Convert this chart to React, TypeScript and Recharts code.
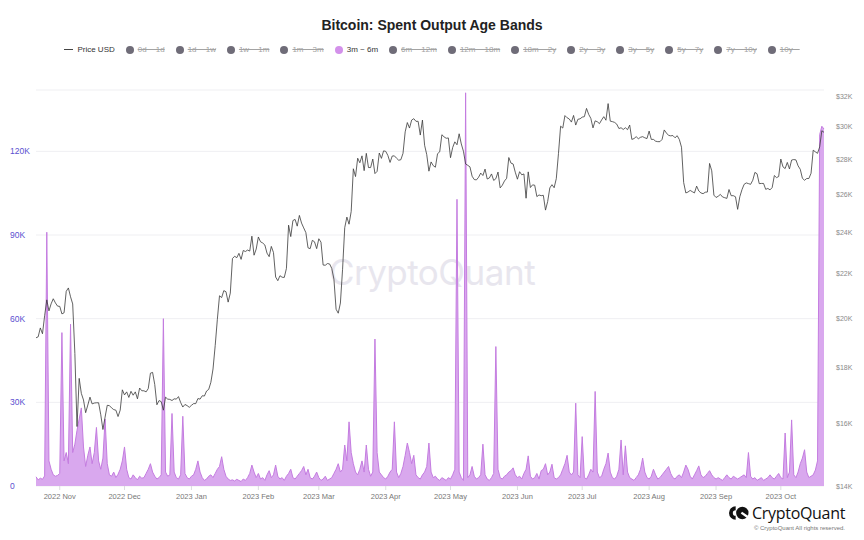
import { ComposedChart, Area, Line, XAxis, YAxis, CartesianGrid } from "recharts";

// daily series, first point 2022-10-21, last point 2023-10-21
const START = Date.UTC(2022, 9, 21);
const DAY = 86400000;

const priceUsd = [
  19165, 19204, 19570, 19330, 20080, 20770, 20290, 20595, 20818, 20635, 20495,
  // Nov
  20485, 20160, 20209, 21148, 21300, 20905, 20590, 18541, 15880, 17586,
  17034, 16800, 16353, 16620, 16900, 16660, 16690, 16700, 16700, 16280,
  15780, 16200, 16610, 16600, 16520, 16460, 16440, 16220, 16440, 17165,
  // Dec
  16980, 17090, 16890, 17110, 16970, 17090, 16840, 17230, 17130, 17130,
  17090, 17210, 17780, 17810, 17360, 16630, 16780, 16740, 16440, 16900,
  16830, 16820, 16780, 16840, 16830, 16920, 16710, 16550, 16640, 16600, 16540,
  // Jan
  16610, 16670, 16670, 16850, 16830, 16950, 16940, 17120, 17180, 17440,
  17940, 18850, 19930, 20950, 20870, 21180, 21130, 20670, 21070, 22670,
  22780, 22710, 22920, 22630, 23060, 23010, 23080, 23030, 23770, 22830, 23130,
  // Feb
  23730, 23490, 23430, 23330, 22930, 22760, 23260, 22960, 21800, 21630,
  21860, 21790, 21780, 22200, 24330, 23750, 24570, 24630, 24280, 24840,
  24440, 24190, 23950, 23190, 23150, 23560, 23490, 23150,
  // Mar
  23640, 23470, 22360, 22350, 22430, 22410, 22200, 21700, 20360, 20190,
  20630, 22160, 24200, 24750, 24380, 25050, 27420, 26970, 28040, 27770,
  28180, 27310, 28330, 27490, 27490, 27990, 27140, 27270, 28350, 28030, 28480,
  // Apr
  28450, 28200, 27790, 28170, 28180, 28040, 27920, 27950, 28330, 29650,
  30240, 29890, 30400, 30490, 30320, 30320, 29450, 30400, 28820, 28250,
  27280, 27820, 27600, 27510, 28310, 28420, 29470, 29340, 29250, 29270,
  // May
  28070, 28680, 29030, 28850, 29530, 28900, 28450, 27700, 27620, 27530,
  26990, 26800, 26780, 26930, 27170, 27030, 27400, 26830, 26890, 27120,
  26750, 26850, 27230, 26330, 26480, 26720, 26870, 28080, 27750, 27700, 27220,
  // Jun
  26820, 27250, 27070, 27120, 25760, 27240, 26350, 26500, 26480, 25850,
  25940, 25900, 25920, 25120, 25580, 26330, 26510, 26340, 26850, 28310,
  30010, 29890, 30690, 30550, 30470, 30270, 30700, 30080, 30450, 30480,
  // Jul
  30590, 30620, 31160, 30770, 30510, 29900, 30350, 30290, 30170, 30410,
  30620, 30390, 31480, 30330, 30300, 30250, 30140, 29860, 29910, 29800,
  29910, 29790, 30080, 29180, 29230, 29350, 29220, 29310, 29350, 29280, 29230,
  // Aug
  29700, 29180, 29180, 29070, 29040, 29040, 29180, 29770, 29580, 29430,
  29400, 29420, 29280, 29410, 29170, 28700, 26630, 26050, 26100, 26190,
  26120, 26050, 26430, 26160, 26050, 26010, 26090, 26100, 27730, 27300, 25930,
  // Sep
  25800, 25870, 25970, 25830, 25790, 25750, 26240, 25900, 25900, 25840,
  25160, 25840, 26230, 26530, 26610, 26570, 26530, 26760, 27210, 27130,
  26570, 26580, 26580, 26250, 26300, 26220, 26350, 27030, 26910, 26970,
  // Oct
  27990, 27530, 27430, 27790, 27410, 27930, 27960, 27940, 27590, 27390,
  26870, 26760, 26860, 26860, 27160, 28520, 28420, 28330, 28720, 29720, 29620,
];

const spent3m6m = [
  3300, 2200, 2800, 2400, 3600, 91000, 9000, 6000, 4000, 3500,
  3800, 4500, 55000, 9000, 12000, 8000, 58000, 12000, 15000, 20000,
  24000, 28000, 14000, 7000, 11000, 14000, 8000, 12000, 21000, 9000,
  6000, 10000, 24000, 8000, 4000, 3500, 5000, 3000, 4200, 6000,
  9000, 14000, 6000, 3000, 2500, 4000, 3000, 2200, 3500, 2800,
  3000, 4500, 6000, 8000, 5000, 3500, 2500, 3000, 4000, 60000,
  5000, 3500, 4000, 26000, 5000, 3000, 2500, 4000, 25000, 4500,
  3000, 2500, 3500, 4000, 6000, 9000, 5000, 3000, 2000, 2500,
  3500, 4000, 3000, 4500, 6000, 7000, 10500, 6000, 3500, 2500,
  2000, 2200, 1800, 2400, 2000, 1600, 2500, 2000, 3000, 4500,
  7500, 5000, 3000, 4500, 2500, 3000, 2000, 4000, 5500, 3000,
  4000, 7500, 3500, 2500, 3000, 2000, 3500, 4500, 6000, 3000,
  2500, 3500, 4500, 5500, 7000, 4000, 6000, 3000, 2500, 3500,
  5000, 3000, 2000, 2500, 3500, 2000, 2500, 3000, 4500, 6000,
  8000, 5000, 6000, 14700, 9000, 23000, 12000, 8000, 5000, 4000,
  6000, 9000, 5000, 14700, 6000, 3500, 5000, 52700, 12000, 5000,
  4000, 3000, 2500, 3500, 5000, 6000, 23000, 5000, 3000, 4500,
  7000, 11000, 15400, 12000, 8000, 11000, 4000, 3000, 2500, 4000,
  5000, 7000, 15400, 5000, 3000, 3500, 2500, 2000, 3000, 2500,
  2000, 3000, 2500, 4000, 6000, 102800, 5000, 3000, 2000, 141000,
  3000, 4000, 7000, 3500, 2500, 3000, 4000, 15000, 4000, 2500,
  2000, 3000, 4500, 50000, 6000, 3000, 2500, 3500, 4000, 5000,
  5500, 6500, 4000, 3000, 3500, 2500, 4500, 6000, 10800, 3500,
  2500, 3000, 4500, 2500, 5500, 6000, 8000, 4000, 5000, 7800,
  3000, 2500, 3000, 4000, 6000, 8000, 11000, 5000, 4000, 5000,
  29700, 4000, 3000, 17700, 3000, 2500, 4000, 6000, 5000, 33900,
  5000, 3000, 3500, 6000, 8000, 11800, 5000, 3000, 2500, 3500,
  6000, 16500, 4000, 14400, 5000, 3000, 2500, 2000, 3000, 4000,
  6000, 10000, 5000, 3000, 2500, 3500, 6000, 4000, 2500, 3000,
  4000, 5000, 6000, 7000, 4500, 3000, 2500, 3500, 4000, 3000,
  5000, 7500, 6000, 3500, 2500, 4000, 5500, 7200, 4000, 3000,
  3500, 4500, 5500, 4000, 3000, 2500, 3000, 2500, 2000, 3000,
  4000, 3000, 2500, 3500, 3000, 2500, 3000, 3500, 4000, 3000,
  12000, 3500, 2500, 3000, 2000, 2500, 3000, 2000, 2500, 3000,
  4000, 3000, 2500, 3500, 4500, 3000, 2500, 19000, 3000, 5000,
  23700, 4000, 3000, 5000, 8000, 10000, 13000, 5000, 3000, 3500,
  4000, 5700, 9000, 126000, 129000, 128000,
];

const monthTicks = [
  "2022-11-01", "2022-12-01", "2023-01-01", "2023-02-01", "2023-03-01", "2023-04-01",
  "2023-05-01", "2023-06-01", "2023-07-01", "2023-08-01", "2023-09-01", "2023-10-01",
];
const monthNames = ["Jan", "Feb", "Mar", "Apr", "May", "Jun", "Jul", "Aug", "Sep", "Oct", "Nov", "Dec"];

const leftTicks = [0, 30000, 60000, 90000, 120000];
const rightTicks = [14000, 16000, 18000, 20000, 22000, 24000, 26000, 28000, 30000, 32000];

const bandNames = [
  "0d ~ 1d", "1d ~ 1w", "1w ~ 1m", "1m ~ 3m", "3m ~ 6m", "6m ~ 12m", "12m ~ 18m",
  "18m ~ 2y", "2y ~ 3y", "3y ~ 5y", "5y ~ 7y", "7y ~ 10y", "10y ~",
];
const activeBand = "3m ~ 6m";

const data = priceUsd.map((p, i) => ({
  ts: START + i * DAY,
  price: p,
  spent: spent3m6m[i] ?? 0,
}));

const tickTimes = monthTicks.map((s) => Date.parse(s + "T00:00:00Z"));

const FONT = "'Liberation Sans', Arial, Helvetica, sans-serif";

function fmtMonth(t: number) {
  const d = new Date(t);
  return `${d.getUTCFullYear()} ${monthNames[d.getUTCMonth()]}`;
}

function LeftTick(props: any) {
  const { y, payload } = props;
  const v = payload.value as number;
  return (
    <text x={10} y={y} dy={3} fill="#5b50d0" fontSize={8.5} fontFamily={FONT}>
      {v === 0 ? "0" : `${v / 1000}K`}
    </text>
  );
}

function RightTick(props: any) {
  const { y, payload } = props;
  return (
    <text x={836} y={y} dy={3} fill="#8a8a8a" fontSize={7} fontFamily={FONT}>
      {`$${payload.value / 1000}K`}
    </text>
  );
}

function BottomTick(props: any) {
  const { x, y, payload } = props;
  return (
    <text x={x} y={y} dy={7} textAnchor="middle" fill="#777" fontSize={7.5} fontFamily={FONT}>
      {fmtMonth(payload.value)}
    </text>
  );
}

function LegendRow() {
  return (
    <div
      style={{
        position: "absolute",
        top: 45,
        left: 0,
        width: 864,
        display: "flex",
        justifyContent: "center",
        alignItems: "center",
        gap: 11,
        fontFamily: FONT,
        fontSize: 8,
      }}
    >
      <div style={{ display: "flex", alignItems: "center", gap: 4, color: "#333" }}>
        <span style={{ width: 9, height: 1, background: "#444", display: "inline-block" }} />
        <span>Price USD</span>
      </div>
      {bandNames.map((b) => {
        const on = b === activeBand;
        return (
          <div key={b} style={{ display: "flex", alignItems: "center", gap: 4 }}>
            <span
              style={{
                width: 8,
                height: 8,
                borderRadius: 4,
                background: on ? "#d391ea" : "#6f6c78",
                display: "inline-block",
              }}
            />
            <span
              style={{
                color: on ? "#333" : "#a3a3a3",
                textDecoration: on ? "none" : "line-through",
              }}
            >
              {b}
            </span>
          </div>
        );
      })}
    </div>
  );
}

export default function App() {
  return (
    <div
      style={{
        position: "absolute",
        left: 0,
        top: 0,
        width: 864,
        height: 540,
        background: "#fff",
        fontFamily: FONT,
        overflow: "hidden",
      }}
    >
      <div
        style={{
          position: "absolute",
          top: 17,
          left: 0,
          width: 864,
          textAlign: "center",
          fontSize: 14,
          fontWeight: 700,
          color: "#222",
        }}
      >
        Bitcoin: Spent Output Age Bands
      </div>
      <LegendRow />
      <div
        style={{
          position: "absolute",
          top: 251,
          left: 0,
          width: 864,
          textAlign: "center",
          fontSize: 35,
          fontFamily: "Inter, 'Open Sans', sans-serif",
          color: "#e8e6ee",
          letterSpacing: -0.5,
        }}
      >
        CryptoQuant
      </div>
      <div style={{ position: "absolute", left: 0, top: 0 }}>
        <ComposedChart
          width={864}
          height={540}
          data={data}
          margin={{ top: 90, right: 0, bottom: 34, left: 0 }}
        >
          <CartesianGrid vertical={false} stroke="#efeff2" yAxisId="left" />
          <XAxis
            dataKey="ts"
            type="number"
            scale="time"
            domain={["dataMin", "dataMax"]}
            ticks={tickTimes}
            interval={0}
            axisLine={false}
            tickLine={{ stroke: "#dcdce0" }}
            tickSize={4}
            tick={<BottomTick />}
            height={20}
          />
          <YAxis
            yAxisId="left"
            orientation="left"
            width={36}
            domain={[0, 142000]}
            ticks={leftTicks}
            interval={0}
            axisLine={false}
            tickLine={false}
            tick={<LeftTick />}
          />
          <YAxis
            yAxisId="right"
            orientation="right"
            width={40}
            scale="log"
            domain={[14000, 32400]}
            allowDataOverflow
            ticks={rightTicks}
            interval={0}
            axisLine={false}
            tickLine={false}
            tick={<RightTick />}
          />
          <Line
            yAxisId="right"
            dataKey="price"
            type="linear"
            stroke="#3a3a3a"
            strokeWidth={0.8}
            dot={false}
            isAnimationActive={false}
          />
          <Area
            yAxisId="left"
            dataKey="spent"
            type="linear"
            stroke="#c47ce0"
            strokeWidth={1}
            fill="#d9a8ee"
            fillOpacity={1}
            isAnimationActive={false}
          />
        </ComposedChart>
      </div>
      <div
        style={{
          position: "absolute",
          left: 729,
          top: 505,
          display: "flex",
          alignItems: "center",
          gap: 3,
          lineHeight: 1,
        }}
      >
        <svg width={20} height={14} viewBox="0 0 21 14">
          <path d="M7 0 A7 7 0 0 0 7 14 L7 10 A3 3 0 0 1 7 4 Z" fill="#111" />
          <circle cx={14} cy={7} r={6.5} fill="#111" />
          <rect x={13} y={6} width={8} height={2.5} fill="#fff" transform="rotate(35 14 7)" />
        </svg>
        <span
          style={{
            fontSize: 16,
            lineHeight: 1,
            color: "#111",
            fontFamily: "'Open Sans', Arial, sans-serif",
            letterSpacing: -0.3,
          }}
        >
          CryptoQuant
        </span>
      </div>
      <div
        style={{
          position: "absolute",
          right: 19,
          top: 525,
          fontSize: 6,
          lineHeight: 1,
          color: "#777",
        }}
      >
        © CryptoQuant All rights reserved.
      </div>
    </div>
  );
}
